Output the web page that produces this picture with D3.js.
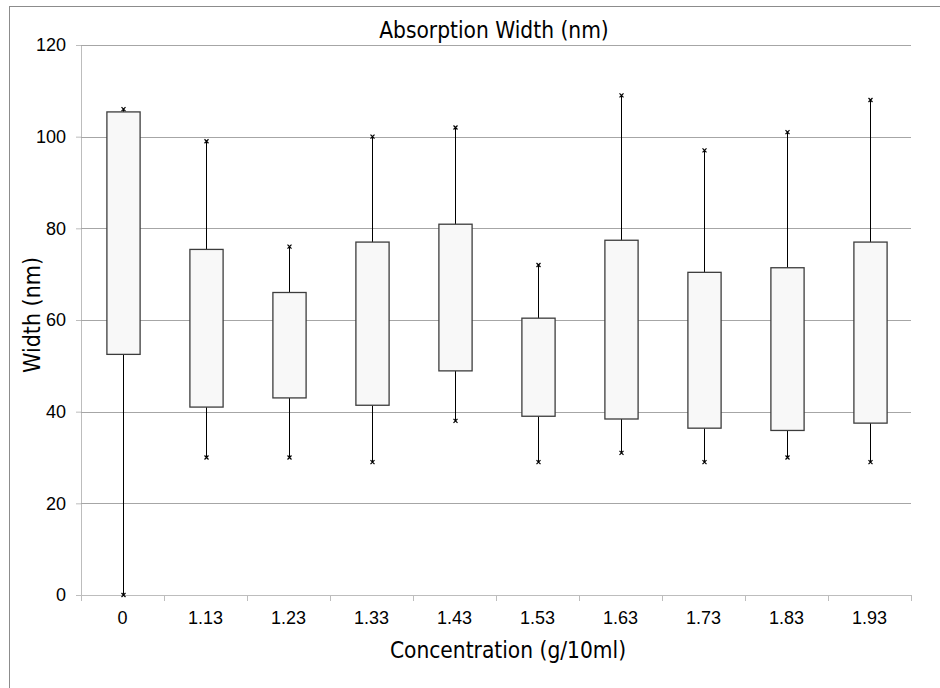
<!DOCTYPE html>
<html>
<head>
<meta charset="utf-8">
<script src="https://cdn.jsdelivr.net/npm/d3@7"></script>
<style>
  body { margin: 0; background: #fff; }
  svg { display: block; font-family: "DejaVu Sans Condensed", "DejaVu Sans", sans-serif; font-stretch: condensed; }
</style>
</head>
<body>
<div id="chart"></div>
<script>
// categorias e valores do box plot
const concentracoes = ["0", "1.13", "1.23", "1.33", "1.43", "1.53", "1.63", "1.73", "1.83", "1.93"];
const minimos = [0, 30, 30, 29, 38, 29, 31, 29, 30, 29];
const quartil1 = [52.5, 41, 43, 41.4, 48.9, 39, 38.4, 36.4, 35.9, 37.5];
const quartil3 = [105.4, 75.4, 66, 77, 80.9, 60.4, 77.4, 70.4, 71.4, 77];
const maximos = [106, 99, 76, 100, 102, 72, 109, 97, 101, 108];
const ticksY = [0, 20, 40, 60, 80, 100, 120];

const largura = 940, altura = 688;
const margem = { top: 45, right: 29, bottom: 93, left: 81 };

const svg = d3.select("#chart").append("svg")
    .attr("width", largura)
    .attr("height", altura);

// moldura
svg.append("rect")
    .attr("x", 9.5).attr("y", 6.5)
    .attr("width", 960).attr("height", 700)
    .attr("fill", "none")
    .attr("stroke", "#8c8c8c");

const dados = concentracoes.map((c, i) => ({
    c, min: minimos[i], q1: quartil1[i], q3: quartil3[i], max: maximos[i]
}));

const x = d3.scaleBand()
    .domain(concentracoes)
    .range([margem.left, largura - margem.right])
    .paddingInner(0).paddingOuter(0);

const y = d3.scaleLinear()
    .domain([0, 120])
    .range([altura - margem.bottom, margem.top]);

// grade horizontal + eixo Y
const eixoY = svg.append("g")
    .attr("transform", `translate(${margem.left},0)`)
    .call(d3.axisLeft(y).tickValues(ticksY).tickSize(5).tickPadding(10));
eixoY.select(".domain").attr("stroke", "#bdbdbd");
eixoY.selectAll(".tick line").attr("stroke", "#bdbdbd");
eixoY.selectAll(".tick text").attr("fill", "#000").style("font-size", "18px");

svg.append("g")
    .selectAll("line")
    .data(ticksY.filter(t => t > 0))
    .join("line")
    .attr("x1", margem.left).attr("x2", largura - margem.right)
    .attr("y1", d => Math.round(y(d)) + 0.5).attr("y2", d => Math.round(y(d)) + 0.5)
    .attr("stroke", "#a6a6a6");

// eixo X com marcas nas bordas das categorias
const eixoX = svg.append("g")
    .attr("transform", `translate(0,${altura - margem.bottom})`)
    .call(d3.axisBottom(x).tickSize(0).tickPadding(16));
eixoX.select(".domain").attr("stroke", "#bdbdbd");
eixoX.selectAll(".tick text").attr("fill", "#000").style("font-size", "18px");
eixoX.selectAll(".borda")
    .data(d3.range(concentracoes.length + 1))
    .join("line")
    .attr("class", "borda")
    .attr("x1", i => Math.round(margem.left + i * x.bandwidth()) + 0.5)
    .attr("x2", i => Math.round(margem.left + i * x.bandwidth()) + 0.5)
    .attr("y1", 0).attr("y2", 6)
    .attr("stroke", "#bdbdbd");

// caixas
const larguraCaixa = x.bandwidth() * 0.4;
const grupo = svg.append("g");
const cx = d => Math.round(x(d.c) + x.bandwidth() / 2) + 0.5;

// bigodes
grupo.selectAll(".bigode-sup")
    .data(dados).join("line")
    .attr("x1", cx).attr("x2", cx)
    .attr("y1", d => y(d.q3)).attr("y2", d => y(d.max))
    .attr("stroke", "#000");
grupo.selectAll(".bigode-inf")
    .data(dados).join("line")
    .attr("x1", cx).attr("x2", cx)
    .attr("y1", d => y(d.q1)).attr("y2", d => y(d.min))
    .attr("stroke", "#000");

grupo.selectAll("rect")
    .data(dados).join("rect")
    .attr("x", d => cx(d) - larguraCaixa / 2)
    .attr("y", d => y(d.q3))
    .attr("width", larguraCaixa)
    .attr("height", d => y(d.q1) - y(d.q3))
    .attr("fill", "#f8f8f8")
    .attr("stroke", "#3c3c3c")
    .attr("stroke-width", 1.3);

// marcadores "x" nas pontas
const marcas = dados.flatMap(d => [{ c: d.c, v: d.max }, { c: d.c, v: d.min }]);
grupo.selectAll(".marca")
    .data(marcas).join("path")
    .attr("class", "marca")
    .attr("d", d => {
        const px = cx(d), py = y(d.v), s = 2;
        return `M${px - s},${py - s}L${px + s},${py + s}M${px - s},${py + s}L${px + s},${py - s}`;
    })
    .attr("stroke", "#000")
    .attr("stroke-width", 1.2);

// títulos
svg.append("text")
    .attr("x", (margem.left + largura - margem.right) / 2 - 2)
    .attr("y", 38)
    .attr("text-anchor", "middle")
    .style("font-size", "22.5px")
    .text("Absorption Width (nm)");

svg.append("text")
    .attr("x", 508)
    .attr("y", 658)
    .attr("text-anchor", "middle")
    .style("font-size", "22.5px")
    .text("Concentration (g/10ml)");

svg.append("text")
    .attr("transform", `translate(40,${(margem.top + altura - margem.bottom) / 2 - 5}) rotate(-90)`)
    .attr("text-anchor", "middle")
    .style("font-size", "23px")
    .text("Width (nm)");
</script>
</body>
</html>
